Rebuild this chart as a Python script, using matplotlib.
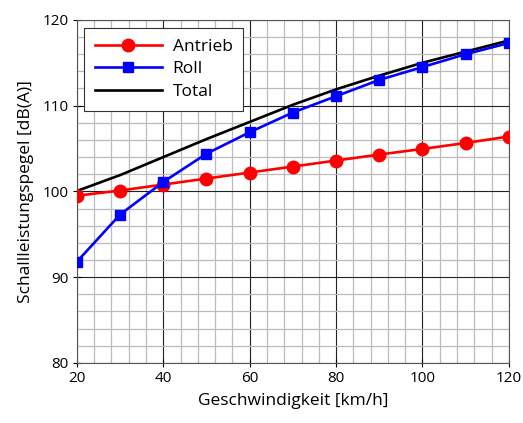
import matplotlib
matplotlib.use("Agg")
import matplotlib.pyplot as plt
from matplotlib.ticker import MultipleLocator

plt.rcParams['font.family'] = ['Open Sans', 'DejaVu Sans']

speed = [20, 30, 40, 50, 60, 70, 80, 90, 100, 110, 120]
antrieb = [99.5, 100.1, 100.8, 101.5, 102.2, 102.9, 103.6, 104.3, 104.95, 105.65, 106.4]
roll = [91.8, 97.3, 101.1, 104.4, 106.9, 109.2, 111.1, 113.0, 114.5, 116.0, 117.3]
total = [100.05, 101.9, 104.0, 106.1, 108.1, 110.1, 111.9, 113.5, 115.0, 116.3, 117.6]

fig = plt.figure(figsize=(5.23, 4.23), dpi=100)
ax = fig.add_axes([0.147, 0.142, 0.826, 0.811])

ax.plot(speed, antrieb, color='#ff0000', lw=1.9, marker='o', ms=9, label='Antrieb', zorder=3)
ax.plot(speed, roll, color='#0000ff', lw=1.9, marker='s', ms=7.5, label='Roll', zorder=4)
ax.plot(speed, total, color='black', lw=1.9, label='Total', zorder=2)

ax.set_xlim(20, 120)
ax.set_ylim(80, 120)
ax.xaxis.set_major_locator(MultipleLocator(20))
ax.xaxis.set_minor_locator(MultipleLocator(4))
ax.yaxis.set_major_locator(MultipleLocator(10))
ax.yaxis.set_minor_locator(MultipleLocator(2))
ax.grid(which='major', color='#222222', lw=0.8, zorder=1)
ax.grid(which='minor', color='#bbbbbb', lw=0.9, zorder=0)
ax.set_axisbelow(True)
ax.tick_params(which='minor', length=0)
ax.tick_params(which='major', direction='inout', length=6, width=0.8, labelsize=11, pad=3)
for s in ax.spines.values():
    s.set_color('#555555')
    s.set_linewidth(0.8)

ax.set_xlabel('Geschwindigkeit [km/h]', fontsize=12.5, labelpad=5)
ax.set_ylabel('Schallleistungspegel [dB(A)]', fontsize=12.5, labelpad=6)

leg = ax.legend(loc='upper left', fontsize=12.5, fancybox=False, edgecolor='#333333',
                framealpha=1, handlelength=3.9, handletextpad=0.6, borderpad=0.62,
                labelspacing=0.37, borderaxespad=0, bbox_to_anchor=(0.016, 0.977))
leg.get_frame().set_linewidth(0.8)

fig.savefig('out.png', dpi=100)
